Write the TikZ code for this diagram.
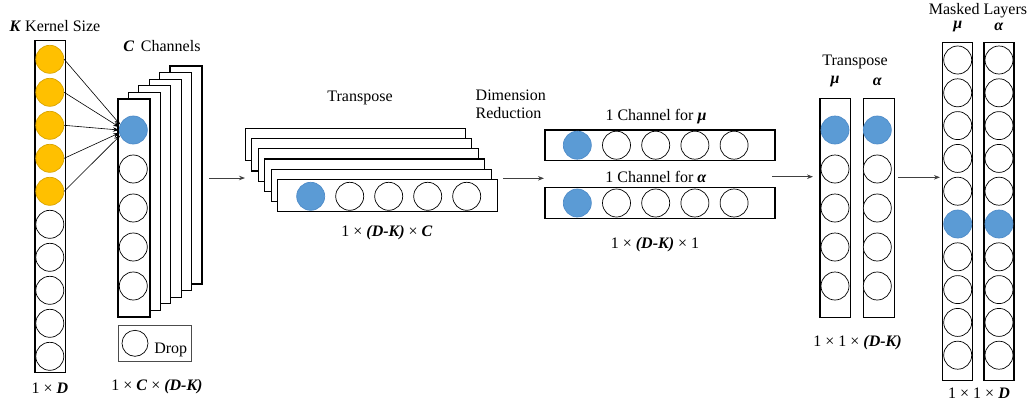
\documentclass[tikz,border=0pt]{standalone}
\usepackage{fontspec}
\setmainfont{Liberation Serif}
\usetikzlibrary{arrows.meta}
\definecolor{orng}{HTML}{FFC000}
\definecolor{orngline}{HTML}{D9A400}
\definecolor{blu}{HTML}{5B9BD5}
\definecolor{bluline}{HTML}{4F8CC9}
\definecolor{arrgray}{HTML}{404040}
\newcommand{\myit}[1]{\textbf{\textit{#1}}}
\begin{document}
\begin{tikzpicture}[x=1pt,y=-1pt,
  font=\fontsize{16}{18.5}\selectfont,
  box/.style={draw, line width=1.2pt, fill=white, inner sep=0pt},
  dropbox/.style={draw=black!70, line width=0.7pt, fill=white, inner sep=0pt},
  cell/.style={circle, draw, line width=0.7pt, fill=white, minimum size=28pt, inner sep=0pt},
  ocell/.style={cell, fill=orng, draw=orngline},
  bcell/.style={cell, fill=blu, draw=bluline},
  thinarr/.style={-{Stealth[length=6pt,width=4.5pt]}, line width=0.6pt, black},
  flowarr/.style={-{Stealth[length=6pt,width=4.5pt]}, line width=0.8pt, arrgray},
  lbl/.style={inner sep=0pt}]
\useasboundingbox (0,0) rectangle (1031,405);

% ---------- column 1: input 1 x D ----------
\node[box, minimum width=30.7pt, minimum height=332pt] (inp) at (50.3,206.7) {};
\foreach \i in {1,...,5} {\node[ocell] (x\i) at (49.8,{59.3+33*(\i-1)}) {};}
\foreach \i in {6,...,10} {\node[cell] (x\i) at (49.8,{59.3+33*(\i-1)}) {};}
\node[lbl] (klbl) at (55,26) {\myit{K} Kernel Size};
\node[lbl] (dlbl) at (50,388) {1 × \myit{D}};

% ---------- column 2: C channels ----------
\foreach \k in {5,4,3,2,1} {\node[box, minimum width=32pt, minimum height=218pt] (ch\k) at ({134+10.4*\k},{208-6.6*\k}) {};}
\node[box, minimum width=32pt, minimum height=218pt] (ch0) at (134,208) {};
\node[bcell] (c1) at (133.3,130) {};
\foreach \i in {2,...,5} {\node[cell] (c\i) at (133.3,{130+39*(\i-1)}) {};}
\node[lbl] (clbl) at (162,46.5) {\myit{C}\, Channels};
\node[dropbox, minimum width=73.7pt, minimum height=36pt] (drop) at (154.8,343) {};
\node[cell, minimum size=26pt] (dc) at (135,343.3) {};
\node[lbl] (droplbl) at (170.8,349.5) {Drop};
\node[lbl] (cdlbl) at (157,387) {1 × \myit{C} × \myit{(D-K)}};

% kernel connections
\foreach \i/\a in {1/157,2/168,3/180,4/192,5/203} {\draw[thinarr] (x\i.east) -- (c1.\a);}

% ---------- transpose stack ----------
\coordinate (a1s) at (209,178);
\coordinate (a1e) at (245,178);
\draw[flowarr] (a1s) -- (a1e);
\foreach \k in {5,4,3,2,1} {\node[box, minimum width=220pt, minimum height=32.4pt] (tr\k) at ({387.7-6.5*\k},{195.5-10.2*\k}) {};}
\node[box, minimum width=220pt, minimum height=32.4pt] (tr0) at (387.7,195.5) {};
\node[bcell] (t1) at (310.7,196.3) {};
\foreach \i in {2,...,5} {\node[cell] (t\i) at ({310.7+39*(\i-1)},196.3) {};}
\node[lbl] (trlbl) at (360,98) {Transpose};
\node[lbl] (trdim) at (387,233) {1 × \myit{(D-K)} × \myit{C}};

% ---------- dimension reduction ----------
\node[lbl, anchor=west, align=left] (dimred) at (475.5,104) {Dimension\\[-0.5pt]Reduction};
\coordinate (a2s) at (503,178.3);
\coordinate (a2e) at (544,178.3);
\draw[flowarr] (a2s) -- (a2e);
\node[box, minimum width=230pt, minimum height=30.7pt] (mu) at (660,145.3) {};
\node[box, minimum width=230pt, minimum height=30.7pt] (al) at (660,202.8) {};
\node[bcell] (m1) at (577.3,145.2) {};
\node[bcell] (n1) at (577.3,203) {};
\foreach \i in {2,...,5} {
  \node[cell] (m\i) at ({577.3+39.2*(\i-1)},145.2) {};
  \node[cell] (n\i) at ({577.3+39.2*(\i-1)},203) {};
}
\node[lbl] (mulbl) at (656,117) {1 Channel for \myit{μ}};
\node[lbl] (allbl) at (656,177) {1 Channel for \myit{α}};
\node[lbl] (redlbl) at (655,245) {1 × \myit{(D-K)} × 1};

% ---------- transpose mu / alpha ----------
\coordinate (a3s) at (772,176.7);
\coordinate (a3e) at (813,176.7);
\draw[flowarr] (a3s) -- (a3e);
\node[box, minimum width=30.7pt, minimum height=219pt] (tmu) at (835.3,207.8) {};
\node[box, minimum width=30.7pt, minimum height=219pt] (tal) at (878.8,207.8) {};
\node[bcell] (p1) at (835,130) {};
\node[bcell] (q1) at (877.3,130) {};
\foreach \i in {2,...,5} {
  \node[cell] (p\i) at (835,{130+39*(\i-1)}) {};
  \node[cell] (q\i) at (877.3,{130+39*(\i-1)}) {};
}
\node[lbl] (tr2lbl) at (855,62) {Transpose};
\node[lbl] (tmulbl) at (835,82) {\myit{μ}};
\node[lbl] (tallbl) at (877.3,82) {\myit{α}};
\node[lbl] (tdimlbl) at (857.5,343) {1 × 1 × \myit{(D-K)}};

% ---------- masked layers ----------
\coordinate (a4s) at (898,177.3);
\coordinate (a4e) at (940,177.3);
\draw[flowarr] (a4s) -- (a4e);
\node[box, minimum width=30pt, minimum height=338pt] (mmu) at (957.7,211.7) {};
\node[box, minimum width=30pt, minimum height=338pt] (mal) at (999,211.7) {};
\foreach \i in {1,...,10} {
  \ifnum\i=6
    \node[bcell] (r\i) at (957.7,{60+32.8*(\i-1)}) {};
    \node[bcell] (s\i) at (999,{60+32.8*(\i-1)}) {};
  \else
    \node[cell] (r\i) at (957.7,{60+32.8*(\i-1)}) {};
    \node[cell] (s\i) at (999,{60+32.8*(\i-1)}) {};
  \fi
}
\node[lbl] (masklbl) at (978,11) {Masked Layers};
\node[lbl] (mmulbl) at (957.7,27) {\myit{μ}};
\node[lbl] (mallbl) at (999,27) {\myit{α}};
\node[lbl] (mdimlbl) at (979,393) {1 × 1 × \myit{D}};
\end{tikzpicture}
\end{document}
